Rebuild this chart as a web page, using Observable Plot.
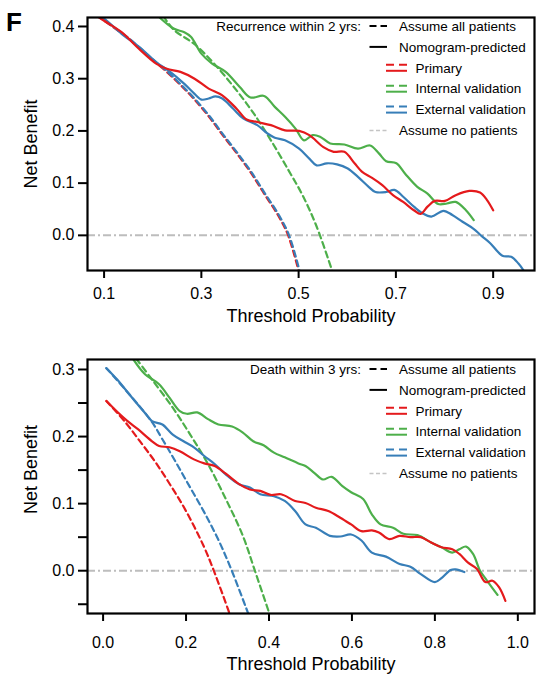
<!DOCTYPE html>
<html><head><meta charset="utf-8">
<script src="https://cdn.jsdelivr.net/npm/d3@7"></script>
<script src="https://cdn.jsdelivr.net/npm/@observablehq/plot@0.6"></script>
<style>
body{margin:0;background:#fff;}
#chart{width:545px;}
#chart svg{display:block;}
</style></head><body><div id="chart"></div>
<script>
const FONT = "'Liberation Sans', Arial, Helvetica, sans-serif";

// ---------- labels ----------
const panelLetter = "F";
const xTitle = "Threshold Probability";
const yTitle = "Net Benefit";
const headerTop = "Recurrence within 2 yrs:";
const headerBottom = "Death within 3 yrs:";
const labelAll = "Assume all patients";
const labelModel = "Nomogram-predicted";
const labelNone = "Assume no patients";
const cohorts = ["Primary", "Internal validation", "External validation"];
const cohortColors = ["#e41a1c", "#4daf4a", "#377eb8"];

// ---------- ticks ----------
const topXTicks = [0.1, 0.3, 0.5, 0.7, 0.9];
const topYTicks = [0, 0.1, 0.2, 0.3, 0.4];
const bottomXTicks = [0, 0.2, 0.4, 0.6, 0.8, 1.0];
const bottomYTicks = [-0.05, 0, 0.05, 0.1, 0.15, 0.2, 0.25, 0.3];

// ---------- Recurrence within 2 yrs: [threshold, net benefit] ----------
const recurModelPrimary = [[0.086,0.420],[0.1,0.411],[0.136,0.389],[0.172,0.357],[0.207,0.329],[0.229,0.319],[0.257,0.313],[0.286,0.300],[0.315,0.281],[0.343,0.268],[0.372,0.243],[0.393,0.222],[0.415,0.217],[0.443,0.211],[0.472,0.201],[0.501,0.200],[0.522,0.192],[0.551,0.169],[0.572,0.160],[0.594,0.160],[0.615,0.138],[0.630,0.122],[0.651,0.110],[0.672,0.096],[0.694,0.077],[0.715,0.064],[0.737,0.048],[0.751,0.041],[0.765,0.055],[0.780,0.066],[0.801,0.066],[0.823,0.077],[0.851,0.085],[0.873,0.082],[0.887,0.068],[0.900,0.048]];
const recurModelInternal = [[0.211,0.420],[0.243,0.396],[0.265,0.389],[0.279,0.380],[0.300,0.348],[0.322,0.329],[0.350,0.313],[0.379,0.284],[0.401,0.264],[0.429,0.267],[0.451,0.246],[0.472,0.227],[0.494,0.204],[0.511,0.182],[0.529,0.192],[0.544,0.189],[0.565,0.176],[0.594,0.174],[0.622,0.166],[0.647,0.172],[0.665,0.157],[0.680,0.142],[0.701,0.138],[0.719,0.118],[0.744,0.093],[0.765,0.080],[0.787,0.060],[0.805,0.061],[0.823,0.064],[0.844,0.048],[0.860,0.029]];
const recurModelExternal = [[0.090,0.420],[0.1,0.415],[0.136,0.386],[0.172,0.361],[0.207,0.332],[0.236,0.313],[0.265,0.290],[0.286,0.271],[0.300,0.260],[0.315,0.262],[0.329,0.266],[0.343,0.262],[0.365,0.243],[0.386,0.224],[0.415,0.211],[0.436,0.195],[0.451,0.187],[0.472,0.182],[0.501,0.166],[0.522,0.147],[0.537,0.134],[0.558,0.138],[0.579,0.136],[0.601,0.128],[0.622,0.112],[0.644,0.093],[0.658,0.083],[0.680,0.083],[0.697,0.087],[0.715,0.074],[0.737,0.055],[0.755,0.042],[0.773,0.036],[0.798,0.047],[0.816,0.039],[0.837,0.026],[0.859,0.013],[0.876,-0.001],[0.894,-0.015],[0.919,-0.039],[0.937,-0.041],[0.952,-0.054],[0.963,-0.068]];
const recurAllPrimary = [[0.086,0.420],[0.1,0.411],[0.15,0.377],[0.2,0.336],[0.229,0.313],[0.257,0.288],[0.286,0.260],[0.315,0.228],[0.343,0.193],[0.372,0.158],[0.401,0.121],[0.429,0.080],[0.458,0.038],[0.478,0.001],[0.500,-0.068]];
const recurAllInternal = [[0.222,0.420],[0.243,0.394],[0.286,0.366],[0.329,0.326],[0.372,0.278],[0.408,0.233],[0.443,0.182],[0.479,0.125],[0.508,0.077],[0.537,0.017],[0.569,-0.068]];
const recurAllExternal = [[0.088,0.420],[0.1,0.412],[0.15,0.378],[0.2,0.337],[0.231,0.313],[0.259,0.288],[0.288,0.260],[0.317,0.228],[0.345,0.193],[0.374,0.158],[0.403,0.121],[0.431,0.080],[0.460,0.038],[0.480,0.001],[0.502,-0.068]];

// ---------- Death within 3 yrs: [threshold, net benefit] ----------
const deathModelPrimary = [[0.008,0.253],[0.034,0.237],[0.059,0.223],[0.084,0.211],[0.118,0.193],[0.135,0.186],[0.160,0.184],[0.185,0.178],[0.219,0.166],[0.244,0.160],[0.269,0.156],[0.295,0.145],[0.328,0.129],[0.354,0.121],[0.379,0.119],[0.404,0.113],[0.429,0.114],[0.463,0.104],[0.488,0.101],[0.513,0.094],[0.543,0.089],[0.572,0.079],[0.598,0.069],[0.623,0.059],[0.648,0.060],[0.665,0.057],[0.690,0.047],[0.715,0.052],[0.741,0.050],[0.766,0.050],[0.791,0.042],[0.816,0.035],[0.842,0.032],[0.859,0.025],[0.880,0.012],[0.901,0.003],[0.922,-0.017],[0.939,-0.015],[0.955,-0.025],[0.970,-0.045]];
const deathModelInternal = [[0.072,0.316],[0.101,0.293],[0.135,0.278],[0.160,0.258],[0.185,0.238],[0.202,0.234],[0.227,0.236],[0.253,0.226],[0.278,0.218],[0.311,0.215],[0.337,0.206],[0.362,0.193],[0.387,0.187],[0.412,0.176],[0.438,0.169],[0.471,0.160],[0.488,0.156],[0.509,0.146],[0.530,0.136],[0.551,0.140],[0.577,0.126],[0.598,0.117],[0.627,0.107],[0.648,0.084],[0.669,0.069],[0.699,0.064],[0.724,0.055],[0.758,0.053],[0.791,0.042],[0.816,0.035],[0.842,0.027],[0.859,0.032],[0.875,0.036],[0.892,0.025],[0.909,0.000],[0.926,-0.015],[0.951,-0.036]];
const deathModelExternal = [[0.008,0.302],[0.034,0.285],[0.067,0.260],[0.101,0.235],[0.118,0.223],[0.143,0.218],[0.168,0.203],[0.194,0.193],[0.219,0.184],[0.244,0.171],[0.269,0.159],[0.295,0.144],[0.328,0.129],[0.354,0.124],[0.379,0.114],[0.412,0.111],[0.438,0.104],[0.463,0.089],[0.488,0.069],[0.513,0.064],[0.547,0.052],[0.572,0.051],[0.598,0.054],[0.623,0.045],[0.648,0.027],[0.682,0.021],[0.715,0.010],[0.741,0.006],[0.766,-0.005],[0.800,-0.017],[0.816,-0.011],[0.838,0.001],[0.850,0.002],[0.871,-0.002]];
const deathAllPrimary = [[0.008,0.253],[0.054,0.221],[0.090,0.192],[0.126,0.162],[0.163,0.127],[0.199,0.090],[0.243,0.036],[0.267,0.000],[0.305,-0.064]];
const deathAllInternal = [[0.080,0.316],[0.118,0.285],[0.168,0.243],[0.210,0.203],[0.253,0.159],[0.295,0.108],[0.337,0.052],[0.366,0.000],[0.401,-0.064]];
const deathAllExternal = [[0.008,0.302],[0.114,0.225],[0.143,0.196],[0.177,0.160],[0.210,0.124],[0.244,0.087],[0.278,0.046],[0.309,0.002],[0.350,-0.064]];

function panel(cfg) {
  const marks = [
    Plot.ruleY([0], {stroke: "#bdbdbd", strokeWidth: 2, strokeDasharray: "8,3,2,3"})
  ];
  cfg.all.forEach((s, i) => marks.push(Plot.line(s, {
    x: d => d[0], y: d => d[1], stroke: cohortColors[i], strokeWidth: 2.2,
    strokeDasharray: "6,4", curve: "catmull-rom", clip: true
  })));
  [2, 1, 0].forEach(i => marks.push(Plot.line(cfg.model[i], {
    x: d => d[0], y: d => d[1], stroke: cohortColors[i], strokeWidth: 2.2,
    curve: "catmull-rom", clip: true
  })));
  marks.push(
    Plot.frame({stroke: "#000", strokeWidth: 2.2}),
    Plot.axisX(cfg.xTicks, {tickFormat: d => d.toFixed(1), tickSize: 8, tickPadding: cfg.xPad,
      strokeWidth: 2, fontSize: 16, label: null}),
    Plot.axisY(cfg.yTicks, {tickFormat: d => (Math.round(d * 100) % 10 === 0 ? d.toFixed(1) : ""),
      tickSize: 9, tickPadding: 4, strokeWidth: 2, fontSize: 16, label: null}),
    Plot.text([yTitle], {frameAnchor: "left", rotate: -90, dx: -56, dy: cfg.yTitleDy,
      fontSize: 18, textAnchor: "middle", fill: "#000"}),
    Plot.text([xTitle], {frameAnchor: "bottom", dy: cfg.xTitleDy, fontSize: 18, fill: "#000"})
  );
  const svg = Plot.plot({
    width: 545, height: cfg.height,
    marginLeft: 87, marginRight: 11, marginTop: cfg.mt, marginBottom: cfg.mb,
    x: {domain: cfg.xDomain},
    y: {domain: cfg.yDomain},
    style: {fontFamily: FONT, fontSize: "16px", color: "#000", background: "#fff"},
    marks
  });
  addLegend(svg, cfg.header, cfg.legendY0);
  return svg;
}

function addLegend(svg, header, y0) {
  const step = 20.9;
  const ys = d3.range(6).map(i => y0 + i * step);
  const g = d3.select(svg).append("g")
    .attr("font-family", FONT).attr("font-size", 13.5).attr("fill", "#000");
  const textA = 399, textB = 415.5;
  const swA = [369.5, 387], swB = [386, 407];
  const seg = (x, y, color, dash, w) => {
    const l = g.append("line").attr("x1", x[0]).attr("x2", x[1]).attr("y1", y).attr("y2", y)
      .attr("stroke", color).attr("stroke-width", w || 2);
    if (dash) l.attr("stroke-dasharray", dash);
  };
  const txt = (x, y, s, anchor) => g.append("text").attr("x", x).attr("y", y).attr("dy", "0.35em")
    .attr("text-anchor", anchor || "start").text(s);
  txt(361, ys[0], header, "end");
  seg(swA, ys[0], "#000", "7,4");
  txt(textA, ys[0], labelAll);
  seg(swA, ys[1], "#000", null);
  txt(textA, ys[1], labelModel);
  cohorts.forEach((c, i) => {
    seg(swB, ys[2 + i] - 3, cohortColors[i], "8,5");
    seg(swB, ys[2 + i] + 3, cohortColors[i], null);
    txt(textB, ys[2 + i], c);
  });
  seg(swA, ys[5], "#c4c4c4", "4,2.5", 1.6);
  txt(textA, ys[5], labelNone);
}

const topPanel = panel({
  height: 340, mt: 17, mb: 70,
  xDomain: [0.0659, 0.985], yDomain: [-0.0673, 0.4172],
  xTicks: topXTicks, yTicks: topYTicks, xPad: 9.5,
  model: [recurModelPrimary, recurModelInternal, recurModelExternal],
  all: [recurAllPrimary, recurAllInternal, recurAllExternal],
  header: headerTop, legendY0: 26, yTitleDy: 0, xTitleDy: 51
});
d3.select(topPanel).append("text").attr("x", 14).attr("y", 31)
  .attr("font-family", FONT).attr("font-weight", "bold").attr("font-size", 26)
  .attr("fill", "#000").text(panelLetter);

const bottomPanel = panel({
  height: 341, mt: 19, mb: 68,
  xDomain: [-0.0376, 1.0402], yDomain: [-0.0638, 0.3149],
  xTicks: bottomXTicks, yTicks: bottomYTicks, xPad: 15.5,
  model: [deathModelPrimary, deathModelInternal, deathModelExternal],
  all: [deathAllPrimary, deathAllInternal, deathAllExternal],
  header: headerBottom, legendY0: 29, yTitleDy: -17, xTitleDy: 56.5
});

document.getElementById("chart").append(topPanel, bottomPanel);
</script>
</body></html>
